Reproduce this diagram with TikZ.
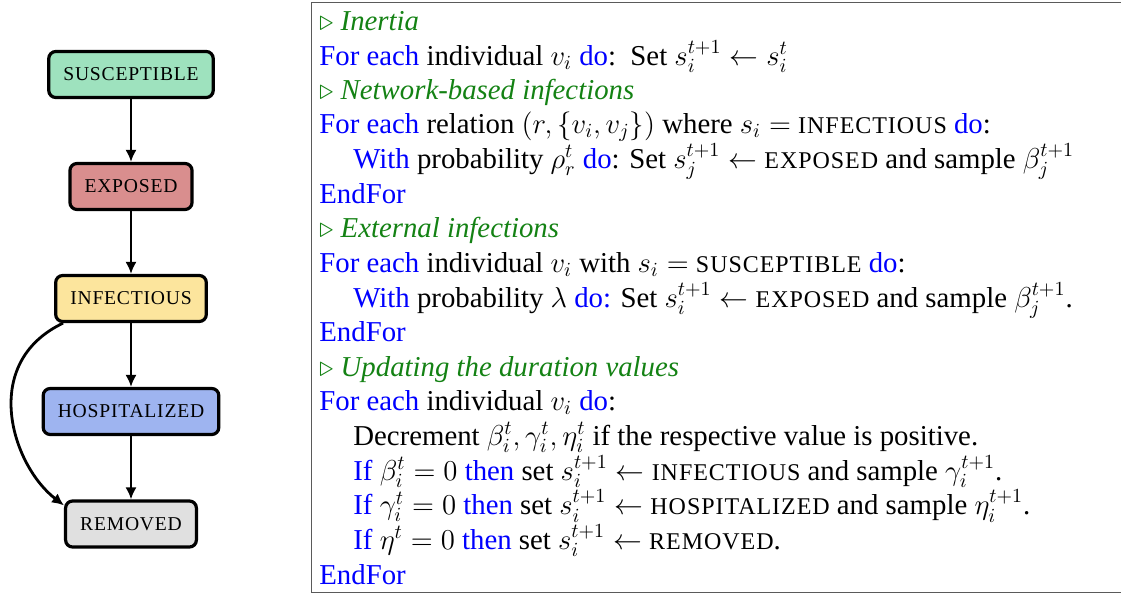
\documentclass[tikz,border=0pt]{standalone}
\usepackage[no-math]{fontspec}
\setmainfont{Liberation Serif}
\newfontfamily\capsfont[LetterSpace=4]{Liberation Serif}
\usepackage{amsmath}
\usetikzlibrary{arrows.meta}

\definecolor{kwblue}{RGB}{0,0,255}
\definecolor{cmtgreen}{RGB}{20,130,20}
\definecolor{fillsus}{RGB}{158,226,190}
\definecolor{fillexp}{RGB}{217,142,142}
\definecolor{fillinf}{RGB}{252,229,157}
\definecolor{fillhos}{RGB}{158,180,240}
\definecolor{fillrem}{RGB}{224,224,224}
\definecolor{framegray}{RGB}{90,90,90}

\newcommand\kwd[1]{\textcolor{kwblue}{#1}}
\newcommand\cmnt[1]{\textcolor{cmtgreen}{$\triangleright$ \textit{#1}}}
\newcommand\statename[1]{{\capsfont\fontsize{12pt}{12pt}\selectfont #1}}

\begin{document}
\begin{tikzpicture}[x=0.5pt,y=-0.5pt,
  state/.style={draw=black, line width=1.6pt, rounded corners=3.5pt,
    minimum height=23pt, inner xsep=7.3pt, inner ysep=0pt,
    font=\capsfont\fontsize{9.8pt}{10pt}\selectfont},
  flow/.style={line width=1.4pt, -{Latex[length=6pt,width=5.6pt]}},
  algline/.style={anchor=base west, inner sep=0pt, font=\fontsize{14.4pt}{17pt}\selectfont}]
\useasboundingbox (0,0) rectangle (1121,596);

% state diagram
\node[state, fill=fillsus] (sus) at (131,74.5) {SUSCEPTIBLE};
\node[state, fill=fillexp] (exp) at (131,186.5) {EXPOSED};
\node[state, fill=fillinf] (inf) at (131,298.5) {INFECTIOUS};
\node[state, fill=fillhos] (hos) at (131,411.5) {HOSPITALIZED};
\node[state, fill=fillrem] (rem) at (131,524) {REMOVED};

\draw[flow] (sus) -- (exp);
\draw[flow] (exp) -- (inf);
\draw[flow] (inf) -- (hos);
\draw[flow] (hos) -- (rem);
\draw[flow] ([xshift=4.5pt]inf.south west)
  .. controls +(-42pt,-20pt) and +(-26pt,20pt) .. ([yshift=-3pt]rem.north west);

% algorithm frame
\draw[framegray, line width=0.8pt] (1121,2.5) -- (311.5,2.5) -- (311.5,592.5) -- (1121,592.5);

% algorithm lines
\node[algline] (l0) at (319,30) {\cmnt{Inertia}};
\node[algline] (l1) at (319,65) {\kwd{For each} individual $v_i$ \kwd{do}:\ \ Set $s_i^{t+1} \leftarrow s_i^t$};
\node[algline] (l2) at (319,99) {\cmnt{Network-based infections}};
\node[algline] (l3) at (319,133.5) {\kwd{For each} relation $(r,\{v_i,v_j\})$ where $s_i =$ \statename{INFECTIOUS} \kwd{do}:};
\node[algline] (l4) at (353,168) {\kwd{With} probability $\rho_r^t$ \kwd{do}: Set $s_j^{t+1} \leftarrow$ \statename{EXPOSED} and sample $\beta_j^{t+1}$};
\node[algline] (l5) at (319,203) {\kwd{EndFor}};
\node[algline] (l6) at (319,237.5) {\cmnt{External infections}};
\node[algline] (l7) at (319,272) {\kwd{For each} individual $v_i$ with $s_i =$ \statename{SUSCEPTIBLE} \kwd{do}:};
\node[algline] (l8) at (353,307) {\kwd{With} probability $\lambda$ \kwd{do:} Set $s_i^{t+1} \leftarrow$ \statename{EXPOSED} and sample $\beta_j^{t+1}$.};
\node[algline] (l9) at (319,341.5) {\kwd{EndFor}};
\node[algline] (l10) at (319,376) {\cmnt{Updating the duration values}};
\node[algline] (l11) at (319,410.5) {\kwd{For each} individual $v_i$ \kwd{do}:};
\node[algline] (l12) at (353,445) {Decrement $\beta_i^t, \gamma_i^t, \eta_i^t$ if the respective value is positive.};
\node[algline] (l13) at (353,480) {\kwd{If} $\beta_i^t = 0$ \kwd{then} set $s_i^{t+1} \leftarrow$ \statename{INFECTIOUS} and sample $\gamma_i^{t+1}$.};
\node[algline] (l14) at (353,514.5) {\kwd{If} $\gamma_i^t = 0$ \kwd{then} set $s_i^{t+1} \leftarrow$ \statename{HOSPITALIZED} and sample $\eta_i^{t+1}$.};
\node[algline] (l15) at (353,549) {\kwd{If} $\eta^t = 0$ \kwd{then} set $s_i^{t+1} \leftarrow$ \statename{REMOVED}.};
\node[algline] (l16) at (319,584) {\kwd{EndFor}};
\end{tikzpicture}
\end{document}
